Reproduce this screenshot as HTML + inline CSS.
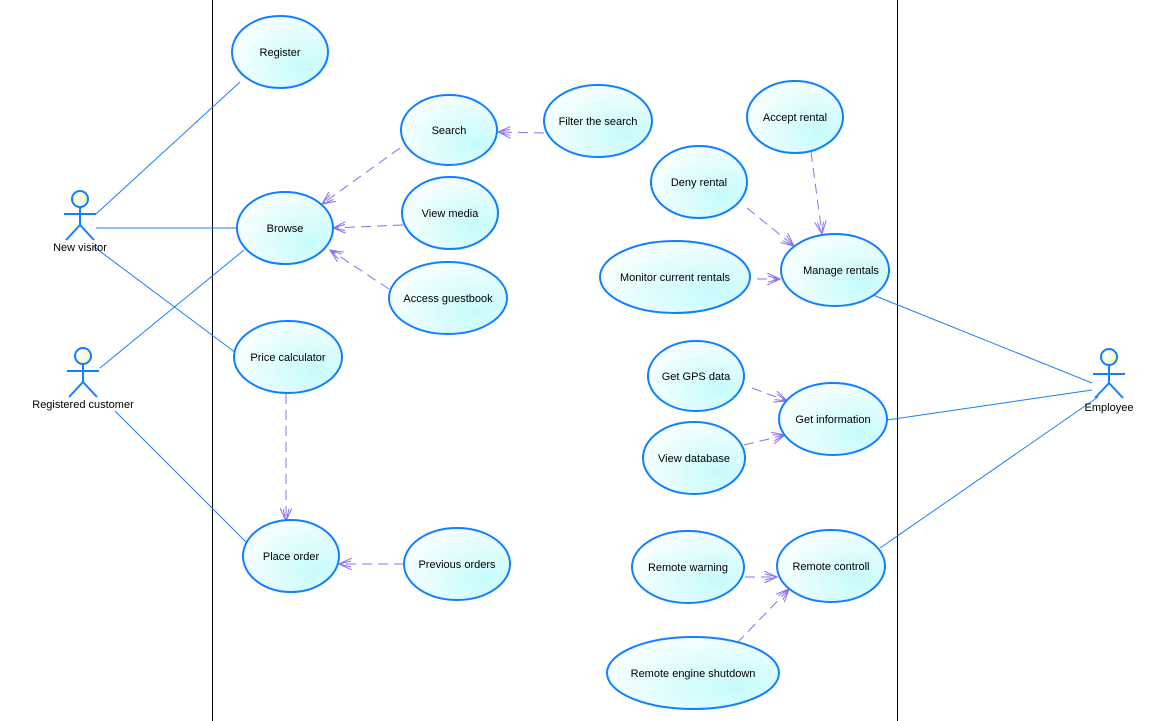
<!DOCTYPE html>
<html><head><meta charset="utf-8"><style>
html,body{margin:0;padding:0;background:#fff;}
svg{display:block;}
text{font-family:"Liberation Sans",sans-serif;font-size:11px;fill:#000;}
</style></head><body>
<svg width="1170" height="721" viewBox="0 0 1170 721" xmlns="http://www.w3.org/2000/svg">
<defs>
<radialGradient id="g" cx="0.75" cy="0.7" r="0.9">
<stop offset="0" stop-color="#c6fbfb"/><stop offset="1" stop-color="#ffffff"/>
</radialGradient>
<radialGradient id="h" cx="0.4" cy="0.4" r="0.7">
<stop offset="0" stop-color="#ffffff"/><stop offset="1" stop-color="#f3f3b0"/>
</radialGradient>
<marker id="a" markerWidth="14" markerHeight="12" refX="13" refY="6" orient="auto" markerUnits="userSpaceOnUse">
<path d="M0,0 L13,6 L0,12 M1,3 L13,6 L1,9" fill="none" stroke="#8870f0" stroke-width="1"/>
</marker>
</defs>
<line x1="212.5" y1="0" x2="212.5" y2="721" stroke="#000"/>
<line x1="897.5" y1="0" x2="897.5" y2="721" stroke="#000"/>
<g stroke="#1a80f0" stroke-width="1" fill="none">
<line x1="96" y1="214" x2="240" y2="82"/>
<line x1="96" y1="228" x2="237" y2="228"/>
<line x1="93" y1="246" x2="236" y2="353"/>
<line x1="100" y1="368" x2="244" y2="250"/>
<line x1="115" y1="411" x2="247" y2="543"/>
<line x1="873" y1="295" x2="1092" y2="383"/>
<line x1="887" y1="420" x2="1092" y2="390"/>
<line x1="880" y1="548" x2="1098" y2="397"/>
</g>
<g stroke="#8870f0" stroke-width="1" fill="none" stroke-dasharray="10,6" marker-end="url(#a)">
<line x1="400" y1="148" x2="322" y2="204"/>
<line x1="403" y1="225" x2="333" y2="228"/>
<line x1="389" y1="289" x2="330" y2="250"/>
<line x1="544" y1="133" x2="498" y2="132"/>
<line x1="811" y1="152" x2="822" y2="234"/>
<line x1="747" y1="208" x2="794" y2="246"/>
<line x1="757" y1="279" x2="780" y2="279"/>
<line x1="752" y1="388" x2="787" y2="401"/>
<line x1="744" y1="445" x2="785" y2="435"/>
<line x1="286" y1="394" x2="286" y2="521"/>
<line x1="404" y1="564" x2="339" y2="564"/>
<line x1="745" y1="577" x2="777" y2="577"/>
<line x1="737" y1="643" x2="789" y2="589"/>
</g>
<g fill="url(#g)" stroke="#0f80ff" stroke-width="2">
<ellipse cx="280" cy="52" rx="48" ry="36"/>
<ellipse cx="449" cy="130" rx="48" ry="35"/>
<ellipse cx="598" cy="121" rx="54" ry="36"/>
<ellipse cx="795" cy="117" rx="48" ry="36"/>
<ellipse cx="699" cy="182" rx="48" ry="36"/>
<ellipse cx="285" cy="228" rx="48" ry="36"/>
<ellipse cx="450" cy="213" rx="48" ry="36"/>
<ellipse cx="835" cy="270" rx="54" ry="36"/>
<ellipse cx="675" cy="277" rx="75" ry="36"/>
<ellipse cx="448" cy="298" rx="59" ry="36"/>
<ellipse cx="288" cy="357" rx="54" ry="36"/>
<ellipse cx="696" cy="376" rx="48" ry="35"/>
<ellipse cx="833" cy="419" rx="54" ry="36"/>
<ellipse cx="694" cy="458" rx="51" ry="36"/>
<ellipse cx="291" cy="556" rx="48" ry="36"/>
<ellipse cx="457" cy="564" rx="53" ry="36"/>
<ellipse cx="688" cy="567" rx="56" ry="36"/>
<ellipse cx="831" cy="566" rx="54" ry="36"/>
<ellipse cx="693" cy="673" rx="86" ry="36"/>
</g>
<g text-anchor="middle">
<text x="280" y="56">Register</text>
<text x="449" y="134">Search</text>
<text x="598" y="125">Filter the search</text>
<text x="795" y="121">Accept rental</text>
<text x="699" y="186">Deny rental</text>
<text x="285" y="232">Browse</text>
<text x="450" y="217">View media</text>
<text x="841" y="274">Manage rentals</text>
<text x="675" y="281">Monitor current rentals</text>
<text x="448" y="302">Access guestbook</text>
<text x="288" y="361">Price calculator</text>
<text x="696" y="380">Get GPS data</text>
<text x="833" y="423">Get information</text>
<text x="694" y="462">View database</text>
<text x="291" y="560">Place order</text>
<text x="457" y="568">Previous orders</text>
<text x="688" y="571">Remote warning</text>
<text x="831" y="570">Remote controll</text>
<text x="693" y="677">Remote engine shutdown</text>
<text x="80" y="251" font-size="10">New visitor</text>
<text x="83" y="408" font-size="10">Registered customer</text>
<text x="1109" y="411" font-size="10">Employee</text>
</g>
<g stroke="#0f80ff" stroke-width="2" fill="none">
<g transform="translate(80,199)"><circle r="8" fill="url(#h)"/><path d="M0,8 V26 M-16,15 H16 M0,26 L-14,41 M0,26 L14,41"/></g>
<g transform="translate(83,356)"><circle r="8" fill="url(#h)"/><path d="M0,8 V26 M-16,15 H16 M0,26 L-14,41 M0,26 L14,41"/></g>
<g transform="translate(1109,357)"><circle r="8" fill="url(#h)"/><path d="M0,8 V26 M-16,17 H16 M0,26 L-14,41 M0,26 L14,41"/></g>
</g>
</svg>
</body></html>
